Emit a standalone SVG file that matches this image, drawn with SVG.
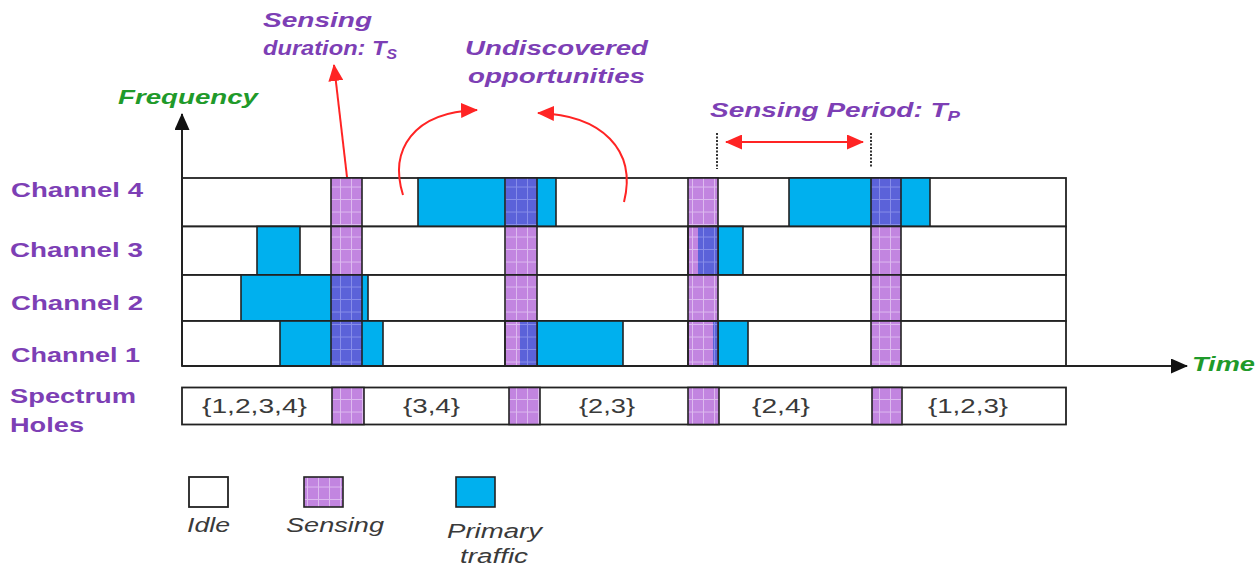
<svg xmlns="http://www.w3.org/2000/svg" width="1257" height="571" viewBox="0 0 1257 571">
<style>
.lbl{font-family:"Liberation Sans",Arial,sans-serif;font-weight:bold;font-style:italic;font-size:21px;fill:#7D3FB5}
.ch{font-family:"Liberation Sans",Arial,sans-serif;font-weight:bold;font-size:21px;fill:#7D3FB5}
.ax{font-family:"Liberation Sans",Arial,sans-serif;font-weight:bold;font-style:italic;font-size:21px;fill:#1F9A2A}
.hole{font-family:"Liberation Sans",Arial,sans-serif;font-size:20px;fill:#3A3A3A}
.leg{font-family:"Liberation Sans",Arial,sans-serif;font-style:italic;font-size:20px;fill:#3A3A3A}
.row{fill:#FFFFFF;stroke:#222;stroke-width:1.8}
.pt{fill:#00B0EE;stroke:#222;stroke-width:1.6}
.sen{fill:url(#senP);stroke:#222;stroke-width:1.6}
.ovl{fill:url(#ovlP);stroke:none}
.ovs{fill:url(#ovlP);stroke:#222;stroke-width:1.6}
.red{fill:none;stroke:#FF2424;stroke-width:2}
.dash{stroke:#333;stroke-width:2;stroke-dasharray:2 1.5}
</style>
<defs>
<pattern id="senP" patternUnits="userSpaceOnUse" width="11" height="12.5">
<rect width="11" height="12.5" fill="#C285E0"/>
<path d="M10.5,0V12.5M0,12H11" stroke="#E8D0F5" stroke-width="1" opacity="0.7"/>
</pattern>
<pattern id="ovlP" patternUnits="userSpaceOnUse" width="11" height="12.5">
<rect width="11" height="12.5" fill="#5B62D9"/>
<path d="M10.5,0V12.5M0,12H11" stroke="#9AA0F0" stroke-width="1" opacity="0.7"/>
</pattern>
<marker id="rh" markerUnits="userSpaceOnUse" markerWidth="17" markerHeight="15" refX="16" refY="7.5" orient="auto-start-reverse">
<path d="M0,0 L17,7.5 L0,15 z" fill="#FF2424"/>
</marker>
<marker id="bh" markerUnits="userSpaceOnUse" markerWidth="17" markerHeight="15" refX="16" refY="7.5" orient="auto">
<path d="M0,0 L17,7.5 L0,15 z" fill="#111"/>
</marker>
</defs>

<g id="channel4">
<rect class="row" x="182" y="178" width="884" height="48.5"/>
<rect class="pt" x="418" y="178" width="138" height="48.5"/>
<rect class="pt" x="789" y="178" width="141" height="48.5"/>
<rect class="sen" x="331" y="178" width="31" height="48.5"/>
<rect class="ovs" x="505" y="178" width="32" height="48.5"/>
<rect class="sen" x="688" y="178" width="30" height="48.5"/>
<rect class="ovs" x="871" y="178" width="30" height="48.5"/>
</g>
<g id="channel3">
<rect class="row" x="182" y="226.5" width="884" height="48.5"/>
<rect class="pt" x="257" y="226.5" width="43" height="48.5"/>
<rect class="pt" x="710" y="226.5" width="33" height="48.5"/>
<rect class="sen" x="331" y="226.5" width="31" height="48.5"/>
<rect class="sen" x="505" y="226.5" width="32" height="48.5"/>
<rect class="sen" x="688" y="226.5" width="30" height="48.5"/>
<rect class="ovl" x="698" y="227.5" width="20" height="46.5"/>
<rect fill="none" stroke="#222" stroke-width="1.6" x="688" y="226.5" width="30" height="48.5"/>
<rect class="sen" x="871" y="226.5" width="30" height="48.5"/>
</g>
<g id="channel2">
<rect class="row" x="182" y="275" width="884" height="46"/>
<rect class="pt" x="241" y="275" width="127" height="46"/>
<rect class="ovs" x="331" y="275" width="31" height="46"/>
<rect class="sen" x="505" y="275" width="32" height="46"/>
<rect class="sen" x="688" y="275" width="30" height="46"/>
<rect class="sen" x="871" y="275" width="30" height="46"/>
</g>
<g id="channel1">
<rect class="row" x="182" y="321" width="884" height="45"/>
<rect class="pt" x="280" y="321" width="103" height="45"/>
<rect class="pt" x="530" y="321" width="93" height="45"/>
<rect class="pt" x="710" y="321" width="38" height="45"/>
<rect class="ovs" x="331" y="321" width="31" height="45"/>
<rect class="sen" x="505" y="321" width="32" height="45"/>
<rect class="ovl" x="520" y="322" width="17" height="43"/>
<rect fill="none" stroke="#222" stroke-width="1.6" x="505" y="321" width="32" height="45"/>
<rect class="sen" x="688" y="321" width="30" height="45"/>
<rect class="ovl" x="713" y="322" width="5" height="43"/>
<rect fill="none" stroke="#222" stroke-width="1.6" x="688" y="321" width="30" height="45"/>
<rect class="sen" x="871" y="321" width="30" height="45"/>
</g>

<g id="spectrum-holes">
<rect class="row" x="182" y="387.5" width="884" height="37"/>
<rect class="sen" x="332" y="387.5" width="32" height="37"/>
<rect class="sen" x="509" y="387.5" width="31" height="37"/>
<rect class="sen" x="688" y="387.5" width="31" height="37"/>
<rect class="sen" x="872" y="387.5" width="30" height="37"/>
<text class="hole" x="202" y="413" textLength="105" lengthAdjust="spacingAndGlyphs">{1,2,3,4}</text>
<text class="hole" x="403" y="413" textLength="57" lengthAdjust="spacingAndGlyphs">{3,4}</text>
<text class="hole" x="579" y="413" textLength="56" lengthAdjust="spacingAndGlyphs">{2,3}</text>
<text class="hole" x="752" y="413" textLength="58" lengthAdjust="spacingAndGlyphs">{2,4}</text>
<text class="hole" x="928" y="413" textLength="80" lengthAdjust="spacingAndGlyphs">{1,2,3}</text>
</g>

<g id="axes">
<line x1="182" y1="366" x2="182" y2="114" stroke="#222" stroke-width="2" marker-end="url(#bh)"/>
<line x1="182" y1="366" x2="1187" y2="366" stroke="#222" stroke-width="2" marker-end="url(#bh)"/>
<text class="ax" x="118" y="104" textLength="140" lengthAdjust="spacingAndGlyphs">Frequency</text>
<text class="ax" x="1192" y="371" textLength="63" lengthAdjust="spacingAndGlyphs">Time</text>
</g>

<g id="channel-labels">
<text class="ch" x="11" y="197" textLength="132" lengthAdjust="spacingAndGlyphs">Channel 4</text>
<text class="ch" x="10" y="257" textLength="133" lengthAdjust="spacingAndGlyphs">Channel 3</text>
<text class="ch" x="11" y="310" textLength="132" lengthAdjust="spacingAndGlyphs">Channel 2</text>
<text class="ch" x="11" y="362" textLength="129" lengthAdjust="spacingAndGlyphs">Channel 1</text>
<text class="ch" x="10" y="403" textLength="126" lengthAdjust="spacingAndGlyphs">Spectrum</text>
<text class="ch" x="10" y="432" textLength="74" lengthAdjust="spacingAndGlyphs">Holes</text>
</g>

<g id="annotations">
<text class="lbl" x="263" y="27" textLength="109" lengthAdjust="spacingAndGlyphs">Sensing</text>
<text class="lbl" x="263" y="55" textLength="134" lengthAdjust="spacingAndGlyphs">duration: T<tspan font-size="14" dy="4">S</tspan></text>
<text class="lbl" x="465" y="55" textLength="183" lengthAdjust="spacingAndGlyphs">Undiscovered</text>
<text class="lbl" x="468" y="83" textLength="177" lengthAdjust="spacingAndGlyphs">opportunities</text>
<text class="lbl" x="710" y="117" textLength="250" lengthAdjust="spacingAndGlyphs">Sensing Period: T<tspan font-size="14" dy="4">P</tspan></text>
</g>

<g id="connectors">
<path class="red" d="M347,177 L334,65" marker-end="url(#rh)"/>
<path class="red" d="M403,195 C389,150 413,112 477,110" marker-end="url(#rh)"/>
<path class="red" d="M624,202 C637,150 602,115 538,113" marker-end="url(#rh)"/>
<path class="red" d="M726,142 L863,142" marker-start="url(#rh)" marker-end="url(#rh)"/>
<line class="dash" x1="717" y1="133" x2="717" y2="169"/>
<line class="dash" x1="871" y1="133" x2="871" y2="167"/>
</g>

<g id="legend-idle">
<rect class="row" x="189" y="477" width="39" height="30"/>
<text class="leg" x="187" y="532" textLength="43" lengthAdjust="spacingAndGlyphs">Idle</text>
</g>
<g id="legend-sensing">
<rect class="sen" x="304" y="477" width="39" height="30"/>
<text class="leg" x="286" y="532" textLength="98" lengthAdjust="spacingAndGlyphs">Sensing</text>
</g>
<g id="legend-primary">
<rect class="pt" x="456" y="477" width="39" height="30"/>
<text class="leg" x="447" y="538" textLength="95" lengthAdjust="spacingAndGlyphs">Primary</text>
<text class="leg" x="460" y="563" textLength="68" lengthAdjust="spacingAndGlyphs">traffic</text>
</g>
</svg>
